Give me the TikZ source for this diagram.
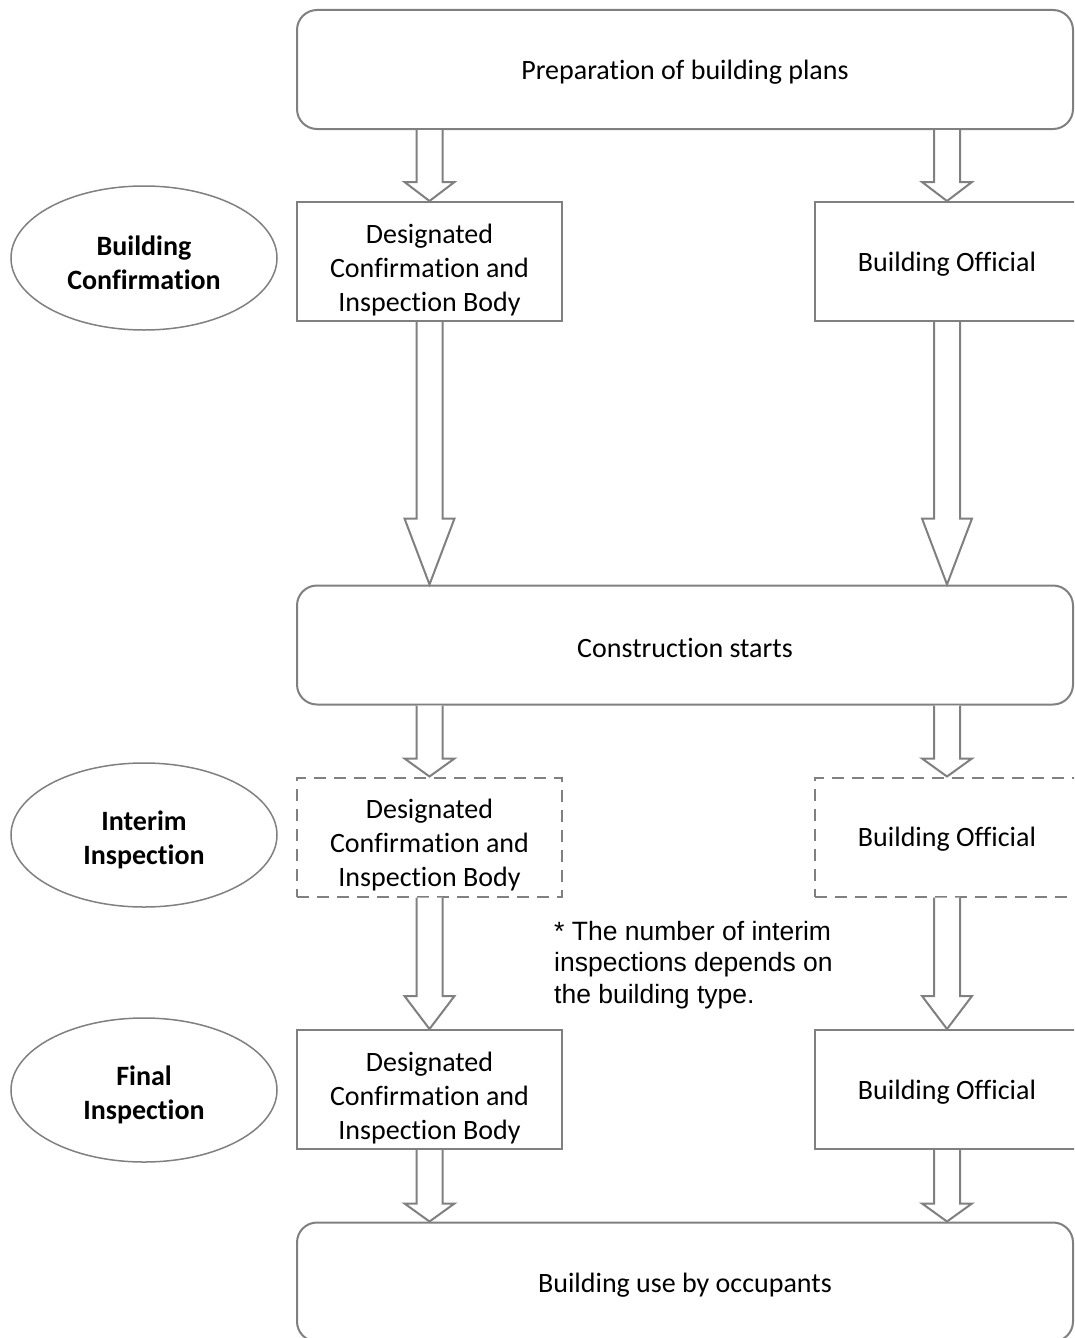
\documentclass[tikz,border=0pt]{standalone}
\usepackage{fontspec}
\setmainfont{Carlito}[Ligatures=NoCommon]
\newfontfamily\notefont{Liberation Sans}
\usetikzlibrary{calc,shapes.geometric}

\definecolor{linegray}{RGB}{128,128,128}

\tikzset{
  stage/.style={draw=linegray,line width=2pt,rounded corners=20pt,
    minimum width=776pt,minimum height=119pt,text height=25pt,
    font=\fontsize{28}{34}\selectfont},
  bodybox/.style={draw=linegray,line width=2pt,minimum width=265pt,
    minimum height=119pt,align=center,text height=24pt,
    font=\fontsize{28}{34}\selectfont},
  threelines/.style={text height=103.6pt},
  interim/.style={bodybox,dash pattern=on 12pt off 8pt},
  phase/.style={draw=linegray,line width=1.5pt,ellipse,minimum width=266pt,
    minimum height=144pt,align=center,text height=63.6pt,
    font=\bfseries\fontsize{28}{34}\selectfont},
  hollow/.style={draw=linegray,line width=2pt,fill=white},
}

% hollow block arrow: head length, from, to
\newcommand{\blockarrow}[3]{%
  \draw[hollow] let \p1=(#2), \p2=(#3) in
    (\x2-13pt,\y1) -- (\x2-13pt,\y2+#1pt) -- (\x2-25pt,\y2+#1pt) -- (\x2,\y2)
    -- (\x2+25pt,\y2+#1pt) -- (\x2+13pt,\y2+#1pt) -- (\x2+13pt,\y1);
}

\begin{document}
\begin{tikzpicture}[x=1pt,y=-1pt]
        \useasboundingbox[fill=white] (0,0) rectangle (1074,1338);
        \clip (0,0) rectangle (1074,1338);
        % Stages
        \node[stage] (plans) at (685,69.5) {Preparation of building plans};
        \node[stage] (start) at (685,645) {Construction starts};
        \node[stage] (use) at (685,1282) {Building use by occupants};
        % Phases
        \node[phase] (confirm) at (144,258) {Building\\Confirmation};
        \node[phase] (interimph) at (144,835) {Interim\\Inspection};
        \node[phase] (finalph) at (144,1090) {Final\\Inspection};
        % Confirmation
        \node[bodybox,threelines] (bodyA) at (429.5,261.5) {Designated\\Confirmation and\\Inspection Body};
        \node[bodybox] (offA) at (947,261.5) {Building Official};
        % Interim inspection
        \node[interim,threelines] (bodyB) at (429.5,837) {Designated\\Confirmation and\\Inspection Body};
        \node[interim] (offB) at (947,837) {Building Official};
        % Final inspection
        \node[bodybox,threelines] (bodyC) at (429.5,1089.5) {Designated\\Confirmation and\\Inspection Body};
        \node[bodybox] (offC) at (947,1089.5) {Building Official};
        % Note
        \node[anchor=north west,inner sep=0pt,align=left,
          font=\notefont\fontsize{26.5}{31.5}\selectfont] (note) at (554,921)
          {* The number of interim\\inspections depends on\\the building type.};
        % Arrows
        \blockarrow{19}{plans.south}{bodyA.north}
        \blockarrow{19}{plans.south}{offA.north}
        \blockarrow{66}{bodyA.south}{start.north -| bodyA.south}
        \blockarrow{66}{offA.south}{start.north -| offA.south}
        \blockarrow{18}{start.south}{bodyB.north}
        \blockarrow{18}{start.south}{offB.north}
        \blockarrow{33}{bodyB.south}{bodyC.north}
        \blockarrow{33}{offB.south}{offC.north}
        \blockarrow{18}{bodyC.south}{use.north -| bodyC.south}
        \blockarrow{18}{offC.south}{use.north -| offC.south}
      \end{tikzpicture}
\end{document}
